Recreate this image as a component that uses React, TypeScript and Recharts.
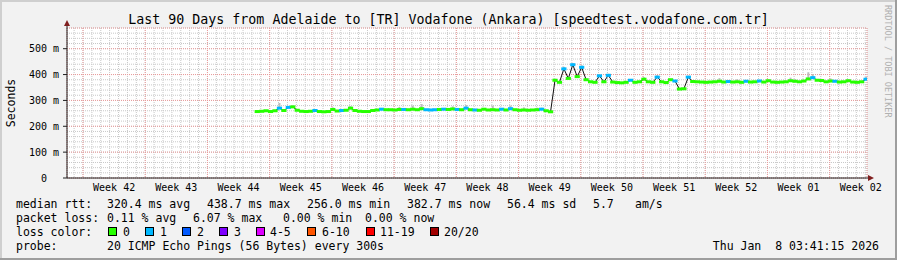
import React from 'react';
import { ComposedChart, Line, XAxis, YAxis, CartesianGrid, ErrorBar } from 'recharts';

// ---- data (90-day window, x in days from left edge) ----
const START_DAY = 21.4;
const STEP_DAYS = 0.5;

const medianMs = [
  257, 258, 260, 257, 260, 270, 261, 273, 275, 262, 258, 257, 258, 261, 257, 256, 257, 265, 259, 261,
  262, 270, 261, 258, 257, 257, 261, 263, 266, 264, 264, 263, 265, 265, 264, 266, 264, 268, 264, 263,
  264, 265, 266, 265, 267, 265, 264, 270, 264, 263, 262, 266, 263, 264, 263, 266, 263, 268, 264, 262,
  263, 262, 263, 264, 266, 260, 256, 378, 370, 422, 385, 438, 392, 428, 380, 372, 370, 395, 372, 397,
  371, 369, 368, 370, 378, 370, 372, 382, 372, 370, 390, 372, 369, 380, 375, 344, 345, 390, 373, 372,
  371, 370, 371, 372, 374, 371, 373, 371, 372, 370, 374, 371, 372, 375, 371, 376, 371, 370, 371, 372,
  376, 374, 372, 375, 383, 388, 378, 377, 372, 375, 374, 371, 372, 376, 371, 370, 372, 382,
];

const lossCount = [
  0, 0, 0, 0, 0, 1, 0, 1, 0, 0, 0, 0, 0, 1, 0, 0, 0, 0, 0, 1,
  0, 0, 0, 0, 0, 0, 0, 0, 1, 0, 0, 0, 0, 1, 0, 0, 0, 0, 1, 1,
  1, 0, 1, 0, 0, 1, 0, 1, 0, 1, 0, 0, 0, 0, 0, 1, 0, 1, 0, 0,
  0, 0, 0, 0, 1, 0, 0, 0, 0, 1, 0, 1, 0, 1, 0, 0, 0, 1, 0, 1,
  0, 0, 0, 0, 1, 0, 0, 0, 0, 0, 1, 0, 0, 0, 1, 0, 0, 1, 0, 0,
  0, 0, 0, 0, 0, 0, 1, 0, 0, 0, 1, 0, 0, 1, 0, 0, 0, 0, 0, 0,
  0, 0, 0, 0, 0, 1, 0, 0, 0, 0, 1, 0, 0, 0, 0, 0, 0, 1,
];

const smokeUpMs = [
  0, 0, 0, 0, 0, 20, 0, 0, 6, 0, 0, 0, 0, 0, 0, 0, 0, 8, 0, 0,
  0, 8, 0, 0, 0, 0, 0, 0, 0, 0, 0, 0, 10, 0, 0, 14, 0, 18, 0, 0,
  0, 0, 0, 0, 10, 0, 0, 12, 0, 0, 0, 0, 0, 16, 0, 0, 0, 12, 0, 0,
  10, 0, 0, 8, 6, 0, 0, 6, 0, 8, 0, 6, 0, 8, 0, 0, 0, 6, 0, 6,
  0, 0, 0, 0, 0, 0, 0, 8, 0, 0, 8, 0, 0, 0, 0, 0, 0, 6, 0, 0,
  0, 0, 0, 0, 12, 0, 0, 0, 10, 0, 0, 0, 0, 0, 0, 6, 0, 0, 0, 0,
  12, 8, 0, 0, 26, 14, 0, 0, 0, 10, 0, 0, 0, 6, 0, 0, 0, 8,
];

const weekLabels = ['Week 42', 'Week 43', 'Week 44', 'Week 45', 'Week 46', 'Week 47', 'Week 48',
  'Week 49', 'Week 50', 'Week 51', 'Week 52', 'Week 01', 'Week 02'];
const weekStartDays = [1.8, 8.8, 15.8, 22.8, 29.8, 36.8, 43.8, 50.8, 57.8, 64.8, 71.8, 78.8, 85.8];
const weekLabelDays = weekStartDays.map((d) => d + 3.5);
const dayTicks = Array.from({ length: 90 }, (_, k) => 0.8 + k);
const yMajorTicks = [0, 100, 200, 300, 400, 500];
const yMinorTicks = Array.from({ length: 30 }, (_, k) => k * 20);

const lossLegendLabels = ['0', '1', '2', '3', '4-5', '6-10', '11-19', '20/20'];
const lossLegendColors = ['#26ff00', '#00b8ff', '#0059ff', '#7e00ff', '#dd00ff', '#ff5500', '#ff0000', '#a10000'];

const lossColor = (n: number) => {
  if (n <= 0) return lossLegendColors[0];
  if (n === 1) return lossLegendColors[1];
  if (n === 2) return lossLegendColors[2];
  if (n === 3) return lossLegendColors[3];
  if (n <= 5) return lossLegendColors[4];
  if (n <= 10) return lossLegendColors[5];
  if (n <= 19) return lossLegendColors[6];
  return lossLegendColors[7];
};

const data = medianMs.map((m, i) => ({
  day: START_DAY + i * STEP_DAYS,
  median: m,
  loss: lossCount[i],
  smoke: [0, smokeUpMs[i]],
}));

const MONO = '"DejaVu Sans Mono", "Liberation Mono", monospace';

const renderDot = (props: any) => {
  const { cx, cy, payload, index } = props;
  if (cx == null || cy == null) return <g key={`d${index}`} />;
  return (
    <rect key={`d${index}`} x={cx - 2.6} y={cy - 1.5} width={5.2} height={3} fill={lossColor(payload.loss)} />
  );
};

const legendRow1: [number, string][] = [
  [16, 'median rtt:'], [107, '320.4 ms avg'], [207, '438.7 ms max'], [307, '256.0 ms min'],
  [407, '382.7 ms now'], [507, '56.4 ms sd'], [593, '5.7'], [635, 'am/s'],
];
const legendRow2: [number, string][] = [
  [16, 'packet loss:'], [107, '0.11 % avg'], [193, '6.07 % max'], [283, '0.00 % min'], [365, '0.00 % now'],
];
const lossBoxX = [108, 145, 182, 219, 256, 307, 366, 430];
const lossTextX = [123, 160, 197, 234, 270, 322, 380, 444];

export default function App() {
  return (
    <div style={{ position: 'absolute', left: 0, top: 0, width: 897, height: 260, background: '#f2f2f2' }}>
      <ComposedChart width={897} height={260} data={data} margin={{ top: 28, right: 30, bottom: 62, left: 7 }}>
        <XAxis xAxisId="minorX" type="number" dataKey="day" domain={[0, 90]} allowDataOverflow ticks={dayTicks} interval={0} hide />
        <XAxis xAxisId="majorX" type="number" dataKey="day" domain={[0, 90]} allowDataOverflow ticks={weekStartDays} interval={0} hide />
        <YAxis yAxisId="minorY" type="number" domain={[0, 580]} allowDataOverflow ticks={yMinorTicks} interval={0} hide />
        <YAxis yAxisId="majorY" type="number" domain={[0, 580]} allowDataOverflow ticks={yMajorTicks} interval={0} hide />
        <CartesianGrid xAxisId="minorX" yAxisId="minorY" stroke="#c8c8c8" strokeDasharray="1 1" fill="#ffffff" fillOpacity={1} />
        <CartesianGrid xAxisId="majorX" yAxisId="majorY" stroke="#eb9a9a" strokeDasharray="1 1" />
        <XAxis
          xAxisId="main"
          type="number"
          dataKey="day"
          domain={[0, 90]}
          allowDataOverflow
          ticks={weekLabelDays}
          interval={0}
          tickFormatter={(v: number) => {
            const idx = weekLabelDays.findIndex((d) => Math.abs(d - v) < 0.01);
            return idx >= 0 ? weekLabels[idx] : '';
          }}
          height={20}
          tickLine={false}
          tickSize={4}
          tickMargin={2}
          axisLine={{ stroke: '#1f1f1f', strokeWidth: 1 }}
          tick={{ fill: '#000', fontSize: 10, fontFamily: MONO }}
        />
        <YAxis
          yAxisId="main"
          type="number"
          domain={[0, 580]}
          allowDataOverflow
          ticks={yMajorTicks}
          interval={0}
          width={60}
          tickSize={4}
          tickMargin={4}
          tickFormatter={(v: number) => (v === 0 ? '0\u00a0\u00a0' : `${v} m`)}
          axisLine={{ stroke: '#1f1f1f', strokeWidth: 1 }}
          tickLine={{ stroke: '#1f1f1f', strokeWidth: 1 }}
          tick={{ fill: '#000', fontSize: 10, fontFamily: MONO }}
        />
        <Line
          xAxisId="main"
          yAxisId="main"
          dataKey="median"
          stroke="none"
          dot={false}
          activeDot={false}
          isAnimationActive={false}
          legendType="none"
        >
          <ErrorBar dataKey="smoke" width={0} strokeWidth={2} stroke="#bdbdbd" direction="y" isAnimationActive={false} />
        </Line>
        <Line
          xAxisId="main"
          yAxisId="main"
          type="linear"
          dataKey="median"
          stroke="#101010"
          strokeWidth={1}
          dot={renderDot}
          activeDot={false}
          isAnimationActive={false}
        />
      </ComposedChart>
      <svg
        width={897}
        height={260}
        style={{ position: 'absolute', left: 0, top: 0, pointerEvents: 'none' }}
        fontFamily={MONO}
      >
        {/* 3D border */}
        <rect x={0} y={0} width={897} height={2} fill="#cfcfcf" />
        <rect x={0} y={0} width={2} height={260} fill="#cfcfcf" />
        <rect x={0} y={258} width={897} height={2} fill="#9e9e9e" />
        <rect x={895} y={0} width={2} height={260} fill="#9e9e9e" />
        {/* axis arrows */}
        <line x1={67} y1={28} x2={67} y2={23} stroke="#1f1f1f" strokeWidth={1} />
        <polygon points="64,26 70,26 67,20" fill="#801f1f" />
        <line x1={867} y1={178} x2={870} y2={178} stroke="#1f1f1f" strokeWidth={1} />
        <polygon points="868,175 868,181 874,178" fill="#801f1f" />
        {/* title */}
        <text x={448.5} y={24} textAnchor="middle" fontSize={13.3} fill="#000">
          Last 90 Days from Adelaide to [TR] Vodafone (Ankara) [speedtest.vodafone.com.tr]
        </text>
        {/* y-axis title */}
        <text transform="translate(14.5,103) rotate(-90)" textAnchor="middle" fontSize={11.5} fill="#000">
          Seconds
        </text>
        {/* watermark */}
        <text transform="translate(885,5) rotate(90)" textAnchor="start" fontSize={8.5} fill="#b0b0b0">
          RRDTOOL / TOBI OETIKER
        </text>
        {/* legend */}
        {legendRow1.map(([x, t]) => (
          <text key={`r1${x}`} x={x} y={208} fontSize={11.5} fill="#000">{t}</text>
        ))}
        {legendRow2.map(([x, t]) => (
          <text key={`r2${x}`} x={x} y={222} fontSize={11.5} fill="#000">{t}</text>
        ))}
        <text x={16} y={236} fontSize={11.5} fill="#000">loss color:</text>
        {lossLegendLabels.map((lab, i) => (
          <g key={`lc${i}`}>
            <rect x={lossBoxX[i] + 0.5} y={227.5} width={8} height={8} fill={lossLegendColors[i]} stroke="#000" strokeWidth={1} />
            <text x={lossTextX[i]} y={236} fontSize={11.5} fill="#000">{lab}</text>
          </g>
        ))}
        <text x={16} y={250} fontSize={11.5} fill="#000">probe:</text>
        <text x={107} y={250} fontSize={11.5} fill="#000">20 ICMP Echo Pings (56 Bytes) every 300s</text>
        <text x={879} y={250} fontSize={11.5} fill="#000" textAnchor="end" xmlSpace="preserve" style={{ whiteSpace: 'pre' }}>
          {'Thu Jan  8 03:41:15 2026'}
        </text>
      </svg>
    </div>
  );
}
